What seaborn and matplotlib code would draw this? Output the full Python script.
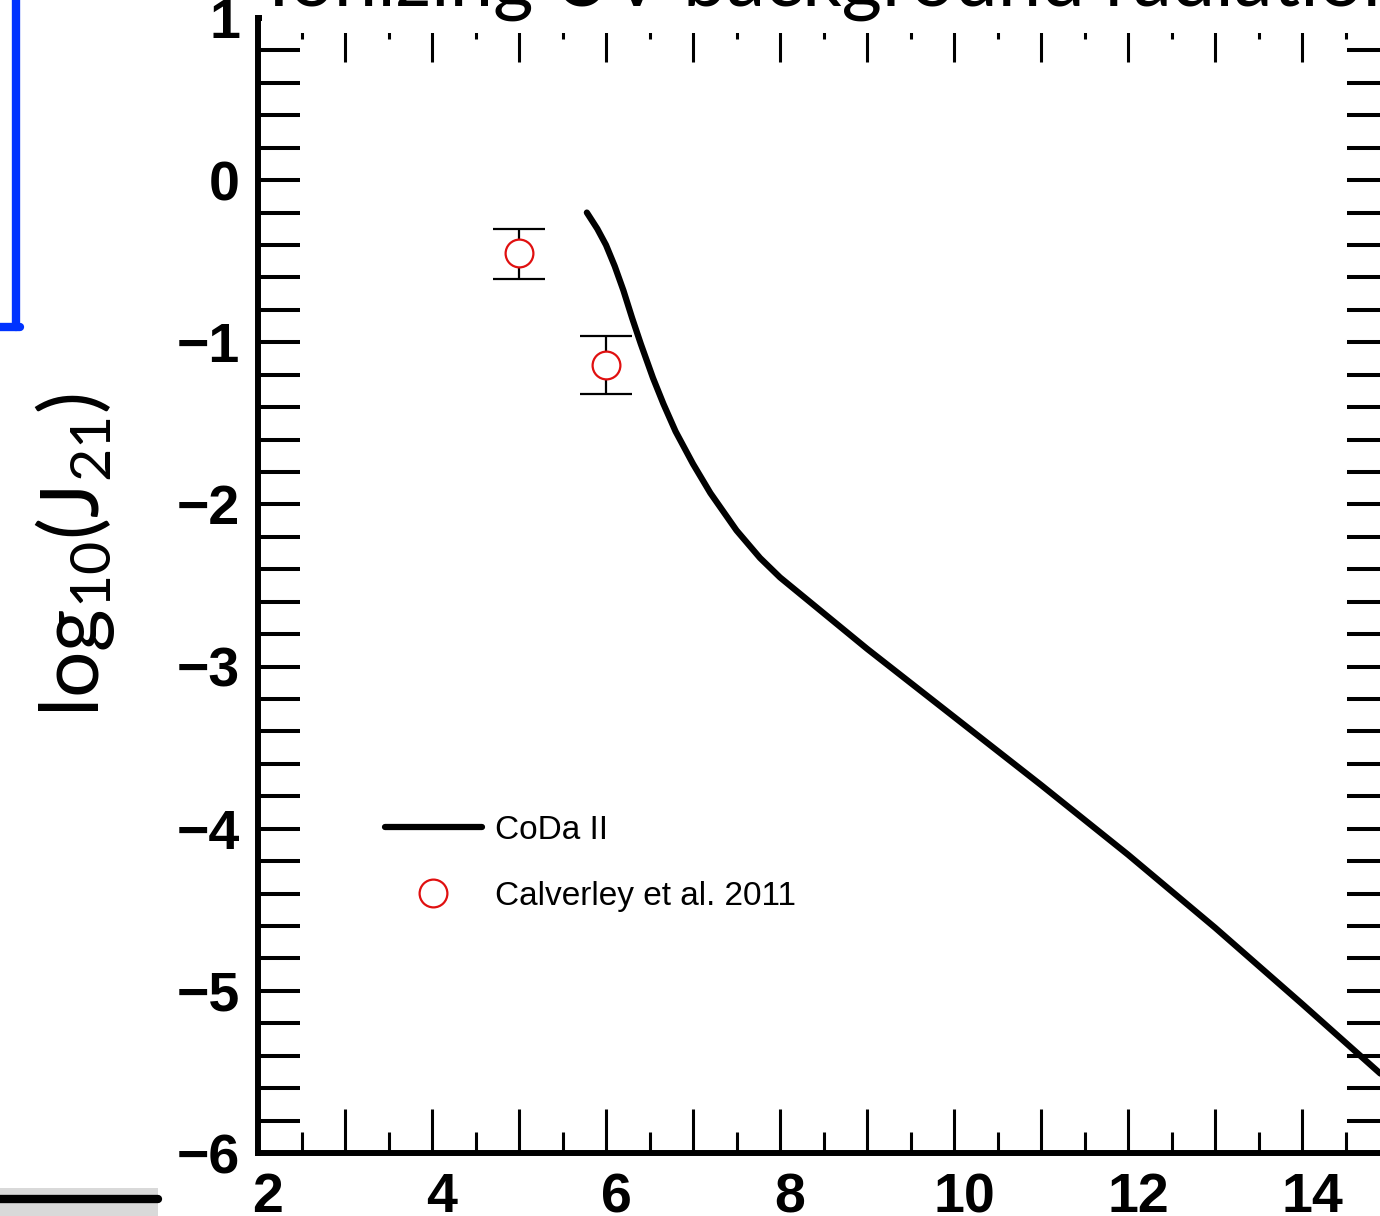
import numpy as np
import pandas as pd
import seaborn as sns
import matplotlib
matplotlib.use("Agg")
import matplotlib.pyplot as plt
from matplotlib.lines import Line2D
from matplotlib.patches import Rectangle
from matplotlib.ticker import MultipleLocator, FuncFormatter
from matplotlib.transforms import ScaledTranslation

# CoDa II simulation: log10 of the ionizing background J21 vs redshift
coda_z = [5.78, 5.90, 6.00, 6.10, 6.20, 6.30, 6.40, 6.54, 6.66, 6.80,
          7.00, 7.20, 7.50, 7.77, 8.00, 8.50, 9.00, 9.50, 10.00, 11.00,
          12.00, 13.00, 14.00, 14.90]
coda_logj = [-0.20, -0.30, -0.40, -0.53, -0.68, -0.85, -1.01, -1.22, -1.38, -1.55,
             -1.75, -1.93, -2.16, -2.33, -2.45, -2.67, -2.89, -3.10, -3.31, -3.73,
             -4.16, -4.61, -5.08, -5.51]

# Calverley et al. 2011 measurements with asymmetric errors
obs_z = [5.0, 6.0]
obs_logj = [-0.45, -1.14]
obs_err_lo = [0.16, 0.18]
obs_err_hi = [0.15, 0.18]

xticks = [2, 4, 6, 8, 10, 12, 14]
yticks = [-6, -5, -4, -3, -2, -1, 0, 1]

sns.set_theme(style="white")
plt.rcParams["font.family"] = ["Liberation Sans", "DejaVu Sans"]
plt.rcParams["mathtext.fontset"] = "custom"
plt.rcParams["mathtext.rm"] = "Lato"
plt.rcParams["mathtext.it"] = "Lato"
for key in ["text.color", "axes.labelcolor", "xtick.color", "ytick.color", "axes.edgecolor"]:
    plt.rcParams[key] = "black"

W, H, DPI = 1380, 1216, 100
fig = plt.figure(figsize=(W / DPI, H / DPI), dpi=DPI)
fig.patch.set_facecolor("white")

def px(x, y):
    return x / W, 1 - y / H

left, right, top, bottom = 258, 1389, 18, 1153
ax = fig.add_axes([left / W, (H - bottom) / H, (right - left) / W, (bottom - top) / H])
ax.set_facecolor("white")

coda = pd.DataFrame({"z": coda_z, "logJ": coda_logj})
sns.lineplot(data=coda, x="z", y="logJ", ax=ax, color="black", lw=4.5,
             sort=False, estimator=None, zorder=3)

ax.errorbar(obs_z, obs_logj, yerr=[obs_err_lo, obs_err_hi], fmt="none",
            ecolor="black", elinewidth=1.6, capsize=19, capthick=1.6, zorder=2)
obs = pd.DataFrame({"z": obs_z, "logJ": obs_logj})
sns.scatterplot(data=obs, x="z", y="logJ", ax=ax, marker="o", s=400,
                facecolor="white", edgecolor="#e01010", linewidth=1.6, zorder=4)

ax.set_xlim(2, 15)
ax.set_ylim(-6, 1)
ax.set_xlabel("")
ax.set_ylabel(r"log$_{10}$(J$_{21}$)", fontsize=59, family="Lato", va="center", color="black")
ax.yaxis.set_label_coords((75 - left) / (right - left), (bottom - 555) / (bottom - top))

ax.xaxis.set_major_locator(MultipleLocator(1))
ax.xaxis.set_minor_locator(MultipleLocator(0.5))
ax.xaxis.set_major_formatter(FuncFormatter(lambda v, p: f"{int(round(v))}" if int(round(v)) in xticks else ""))
ax.yaxis.set_major_locator(MultipleLocator(1))
ax.yaxis.set_minor_locator(MultipleLocator(0.2))
ax.yaxis.set_major_formatter(FuncFormatter(lambda v, p: f"{int(round(v))}".replace("-", "\u2212") if int(round(v)) in yticks else ""))

ax.tick_params(axis="x", which="major", direction="in", length=32, width=2.2,
               top=True, bottom=True, labelsize=40, pad=14, colors="black")
ax.tick_params(axis="x", which="minor", direction="in", length=15, width=2.2,
               top=True, bottom=True, colors="black")
ax.tick_params(axis="y", which="both", direction="in", length=30, width=2.9,
               left=True, right=True, labelsize=40, pad=13, colors="black")
for lbl in ax.get_xticklabels() + ax.get_yticklabels():
    lbl.set_fontweight("bold")
for lbl in ax.get_xticklabels():
    lbl.set_transform(lbl.get_transform() + ScaledTranslation(0.1, 0, fig.dpi_scale_trans))

for side in ["left", "bottom", "top", "right"]:
    ax.spines[side].set_linewidth(4.3)
    ax.spines[side].set_color("black")

handles = [Line2D([], [], color="black", lw=4.5),
           Line2D([], [], ls="none", marker="o", markersize=20,
                  markerfacecolor="white", markeredgecolor="#e01010", markeredgewidth=1.6)]
leg = ax.legend(handles, ["CoDa II", "Calverley et al. 2011"], loc="upper left",
                bbox_to_anchor=px(385, 815), bbox_transform=fig.transFigure,
                frameon=False, fontsize=24, handlelength=2.9, handletextpad=0.4,
                labelspacing=1.05, borderpad=0, borderaxespad=0)
for t in leg.get_texts():
    t.set_color("black")

# slide elements around the chart
fig.add_artist(Rectangle(px(262, 33), (W - 262) / W, 33 / H, transform=fig.transFigure,
                         facecolor="white", edgecolor="none", zorder=5))
fig.text(*px(268, 6), "Ionizing UV background radiation.", fontsize=56, family="Lato",
         ha="left", va="baseline", color="black", zorder=6)
fig.add_artist(Line2D([16 / W, 16 / W], [1, 1 - 327 / H], transform=fig.transFigure,
                      color="#0033ff", lw=6, zorder=6))
fig.add_artist(Line2D([0, 20 / W], [1 - 327 / H, 1 - 327 / H], transform=fig.transFigure,
                      color="#0033ff", lw=6, zorder=6))
fig.add_artist(Rectangle(px(0, 1216), 158 / W, 28 / H, transform=fig.transFigure,
                         facecolor="#d9d9d9", edgecolor="none", zorder=5))
fig.add_artist(Line2D([0, 158 / W], [1 - 1199 / H, 1 - 1199 / H], transform=fig.transFigure,
                      color="black", lw=6, zorder=6))

fig.savefig("out.png", dpi=DPI, facecolor="white")
